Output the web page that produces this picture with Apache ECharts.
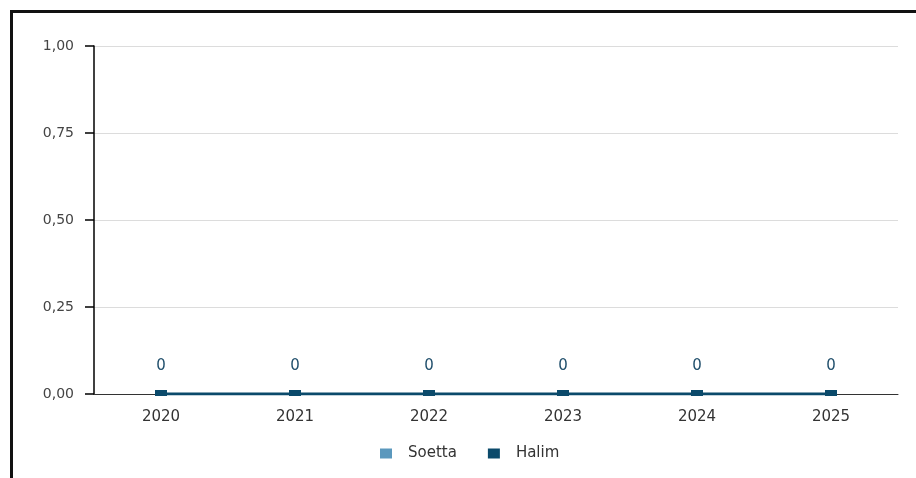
<!DOCTYPE html>
<html>
<head>
<meta charset="utf-8">
<script src="https://cdn.jsdelivr.net/npm/echarts@6/dist/echarts.min.js"></script>
<style>
html,body{margin:0;padding:0;background:#fff;}
#chart{width:916px;height:478px;position:relative;}
#frame{position:absolute;left:10px;top:10px;width:1000px;height:600px;border:3px solid #111;box-sizing:border-box;pointer-events:none;}
</style>
</head>
<body>
<div id="chart"></div>
<div id="frame"></div>
<script>
const categories = ['2020','2021','2022','2023','2024','2025'];
const soettaValues = [0,0,0,0,0,0];
const halimValues = [0,0,0,0,0,0];
const yTicks = [0,0.25,0.5,0.75,1];

const FONT = 'DejaVu Sans, Verdana, sans-serif';
const chart = echarts.init(document.getElementById('chart'), null, {renderer:'canvas'});
chart.setOption({
  animation:false,
  backgroundColor:'#fff',
  grid:{left:94,right:18,top:46,bottom:84,containLabel:false},
  legend:{
    top:441,left:375,itemWidth:12,itemHeight:10,itemGap:31,
    icon:'rect',
    textStyle:{fontFamily:FONT,fontSize:15,color:'#333',padding:[0,0,0,11]},
    data:['Soetta','Halim']
  },
  xAxis:{
    type:'category',data:categories,boundaryGap:true,
    axisLine:{lineStyle:{color:'#333',width:1}},
    axisTick:{alignWithLabel:true,length:9,lineStyle:{color:'#000',width:2}},
    axisLabel:{margin:16,fontFamily:FONT,fontSize:15,color:'#333'},
    splitLine:{show:false}
  },
  yAxis:{
    type:'value',min:0,max:1,interval:0.25,
    axisLine:{show:true,lineStyle:{color:'#000',width:1.5}},
    axisTick:{show:true,length:9,lineStyle:{color:'#000',width:1.5}},
    axisLabel:{margin:20,fontFamily:FONT,fontSize:14,color:'#444',
      formatter:v=>v.toFixed(2).replace('.',',')},
    splitLine:{lineStyle:{color:'#dcdcdc',width:1}}
  },
  series:[
    {name:'Soetta',type:'bar',data:soettaValues,itemStyle:{color:'#5b98bd'},barWidth:10},
    {name:'Halim',type:'line',data:halimValues,itemStyle:{color:'#0b4a6b'},
      lineStyle:{color:'#0b4a6b',width:3},
      symbol:'rect',symbolSize:[12,6],symbolOffset:[0,-1],
      label:{show:true,position:'top',distance:16,color:'#1f4e6b',fontFamily:FONT,fontSize:15}}
  ]
});
</script>
</body>
</html>
